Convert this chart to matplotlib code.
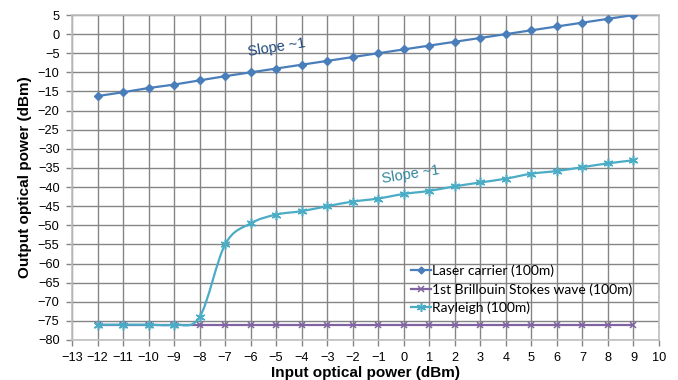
import numpy as np
import matplotlib
matplotlib.use("Agg")
import matplotlib.pyplot as plt
from matplotlib.path import Path
from matplotlib.patches import PathPatch
from matplotlib.lines import Line2D

plt.rcParams['font.family'] = ['Liberation Sans', 'DejaVu Sans']

# input power (dBm)
x_in = list(range(-12, 10))

laser_carrier = [-16.2, -15.2, -14.1, -13.2, -12.1, -11, -10, -9, -8, -7, -6,
                 -5, -4, -3, -2, -1, 0, 1, 2, 3, 4, 5]
brillouin = [-76] * 22
rayleigh = [-76, -76, -76, -76, -74, -55, -49.5, -47.2, -46.3, -45, -43.8,
            -43, -41.8, -41, -39.8, -38.8, -37.8, -36.5, -35.8, -34.8, -33.8, -33]

labels = ['Laser carrier (100m)', '1st Brillouin Stokes wave (100m)', 'Rayleigh (100m)']

c_laser = '#4A7EBB'
c_brill = '#8064A2'
c_rayl = '#4BACC6'
star = (6, 2, 0)


def smooth_path(xs, ys):
    # excel-like smoothed line through the points (bezier segments)
    P = np.column_stack([xs, ys]).astype(float)
    n = len(P)
    verts = [P[0]]
    codes = [Path.MOVETO]
    for i in range(n - 1):
        p0 = P[i - 1] if i > 0 else P[i]
        p3 = P[i + 2] if i + 2 < n else P[i + 1]
        c1 = P[i] + (P[i + 1] - p0) / 6.0
        c2 = P[i + 1] - (p3 - P[i]) / 6.0
        verts += [c1, c2, P[i + 1]]
        codes += [Path.CURVE4] * 3
    return Path(verts, codes)


fig = plt.figure(figsize=(6.78, 3.8), dpi=100)
ax = fig.add_axes([0.1062, 0.1053, 0.8658, 0.8552])

ax.plot(x_in, laser_carrier, color=c_laser, lw=1.6, marker='D', ms=4, zorder=3)
ax.plot(x_in, brillouin, color=c_brill, lw=1.6, marker='x', ms=5, mew=1.1, zorder=3)
ax.add_patch(PathPatch(smooth_path(x_in, rayleigh), fc='none', ec=c_rayl, lw=1.6, zorder=4))
ax.plot(x_in, rayleigh, color=c_rayl, ls='none', marker=star, ms=7, mew=1.1, zorder=4)

ax.text(-5.0, -3.6, 'Slope ~1', color='#1F497D', fontsize=10.5, rotation=9,
        ha='center', va='center')
ax.text(0.25, -36.6, 'Slope ~1', color='#31859C', fontsize=10.5, rotation=9,
        ha='center', va='center')

ax.set_xlim(-13, 10)
ax.set_ylim(-80, 5)
ax.set_xticks(np.arange(-13, 11, 1))
ax.set_yticks(np.arange(-80, 6, 5))
ax.grid(True, color='#858585', lw=1.0)
ax.set_axisbelow(True)
for s in ax.spines.values():
    s.set_color('#BFBFBF')
    s.set_linewidth(1.2)
ax.tick_params(length=4, width=1.0, color='#858585', labelsize=9.2, pad=5)

ax.set_xlabel('Input optical power (dBm)', fontsize=11, fontweight='bold', labelpad=1)
ax.set_ylabel('Output optical power (dBm)', fontsize=11, fontweight='bold', labelpad=4)

handles = [
    Line2D([], [], color=c_laser, lw=1.6, marker='D', ms=3.5),
    Line2D([], [], color=c_brill, lw=1.6, marker='x', ms=5, mew=1.1),
    Line2D([], [], color=c_rayl, lw=1.6, marker=star, ms=6.5, mew=1.1),
]
ax.legend(handles, labels, loc='center left', bbox_to_anchor=(0.578, 0.156),
          frameon=False, prop={'family': 'Lato', 'size': 10},
          handlelength=1.4, handletextpad=0.1, borderpad=0, borderaxespad=0,
          labelspacing=0.45)

fig.savefig('out.png', dpi=100)
